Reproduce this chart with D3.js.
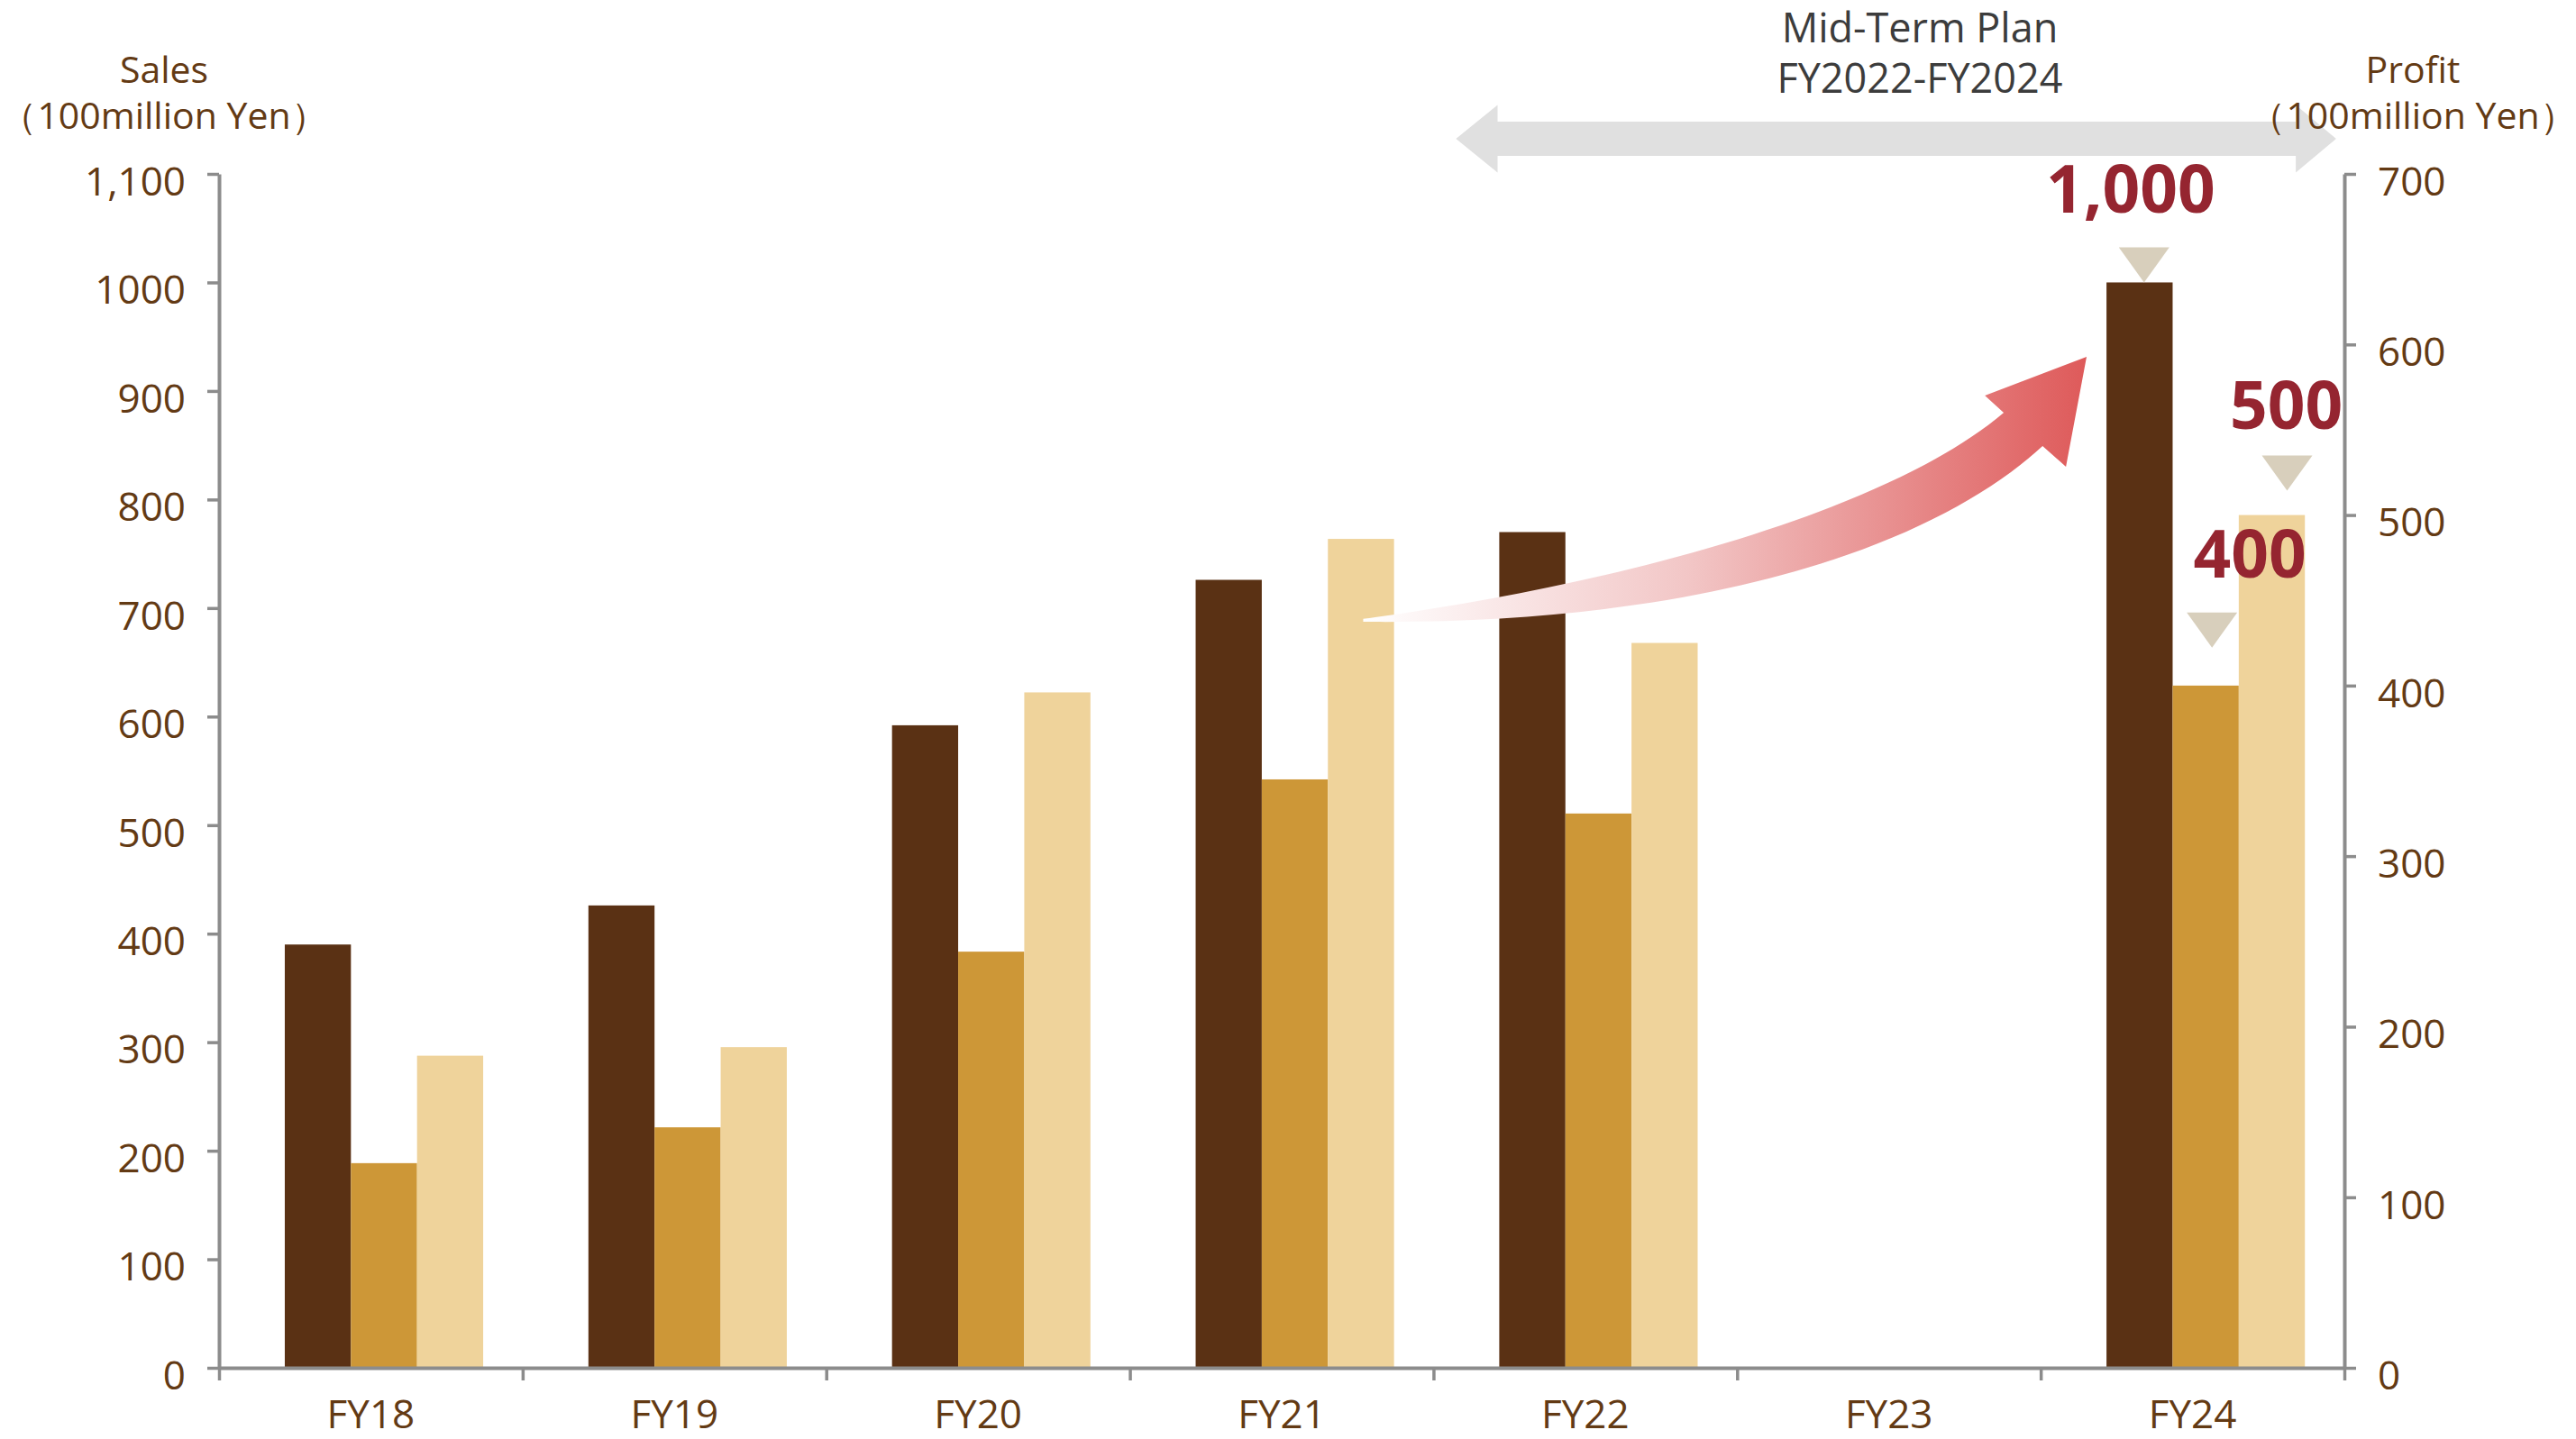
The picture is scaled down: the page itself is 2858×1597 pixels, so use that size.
<!DOCTYPE html>
<html><head><meta charset="utf-8">
<script src="https://cdn.jsdelivr.net/npm/d3@7"></script>
<style>html,body{margin:0;padding:0;background:#fff;} svg{display:block;}</style>
</head><body>
<svg id="chart" width="2858" height="1597"></svg>
<script>
// ---------------- data ----------------
const categories = ["FY18", "FY19", "FY20", "FY21", "FY22", "FY23", "FY24"];
const sales   = [390, 426, 592, 726, 770, null, 1000];   // left axis (100 million Yen)
const profitA = [120, 141, 244, 345, 325, null, 400];    // right axis
const profitB = [183, 188, 396, 486, 425, null, 500];    // right axis
const salesTicks = [0, 100, 200, 300, 400, 500, 600, 700, 800, 900, 1000, 1100];
const salesTickLabels = ["0", "100", "200", "300", "400", "500", "600", "700", "800", "900", "1000", "1,100"];
const profitTicks = [0, 100, 200, 300, 400, 500, 600, 700];
const profitTickLabels = ["0", "100", "200", "300", "400", "500", "600", "700"];
const targetLabels = ["1,000", "400", "500"];
const leftTitle = ["Sales", "（100million Yen）"];
const rightTitle = ["Profit", "（100million Yen）"];
const planTitle = ["Mid-Term Plan", "FY2022-FY2024"];

// ---------------- layout ----------------
const W = 2858, H = 1597;
const L = 243, R = 2601, T = 193, B = 1518;
const svg = d3.select("#chart");
const FONT = "'Open Sans', 'Noto Sans', sans-serif";
const TXT = "#633A14";
const AX = "#8C8C8C";

const x0 = d3.scaleBand().domain(categories).range([L, R]).paddingInner(0).paddingOuter(0);
const xPos = d3.scaleLinear().domain([0, categories.length]).range([L, R]);
const bw = x0.bandwidth();
const seriesKeys = ["sales", "profitA", "profitB"];
const x1 = d3.scaleBand().domain(seriesKeys).range([bw * 0.2166, bw * 0.87]).padding(0);
const yS = d3.scaleLinear().domain([0, 1100]).range([B, T]);
const yP = d3.scaleLinear().domain([0, 700]).range([B, T]);

const colors = { sales: "#5A3114", profitA: "#CD9737", profitB: "#EFD39B" };
const series = [
  { key: "sales", values: sales, y: yS },
  { key: "profitA", values: profitA, y: yP },
  { key: "profitB", values: profitB, y: yP }
];

// ---------------- bars ----------------
const gBars = svg.append("g");
series.forEach(s => {
  gBars.selectAll("rect." + s.key)
    .data(categories.map((c, i) => ({ c, v: s.values[i] })).filter(d => d.v != null))
    .join("rect")
    .attr("class", s.key)
    .attr("x", d => x0(d.c) + x1(s.key))
    .attr("width", x1.bandwidth())
    .attr("y", d => s.y(d.v))
    .attr("height", d => B - s.y(d.v))
    .attr("fill", colors[s.key]);
});

// ---------------- axes ----------------
function styleAxis(g) {
  g.select(".domain").attr("stroke", AX).attr("stroke-width", 4);
  g.selectAll(".tick line").attr("stroke", AX).attr("stroke-width", 3.5);
  g.selectAll(".tick text").attr("fill", TXT).style("font-family", FONT).style("font-size", "44px");
}
const gL = svg.append("g").attr("transform", `translate(${L},0)`)
  .call(d3.axisLeft(yS).tickValues(salesTicks).tickFormat((d, i) => salesTickLabels[i]).tickSize(13).tickSizeOuter(0).tickPadding(24));
styleAxis(gL);
gL.selectAll(".tick text").attr("dy", "0.53em");

const gR = svg.append("g").attr("transform", `translate(${R},0)`)
  .call(d3.axisRight(yP).tickValues(profitTicks).tickFormat((d, i) => profitTickLabels[i]).tickSize(13).tickSizeOuter(0).tickPadding(24));
styleAxis(gR);
gR.selectAll(".tick text").attr("dy", "0.53em");

const gX = svg.append("g").attr("transform", `translate(0,${B})`)
  .call(d3.axisBottom(xPos).tickValues(d3.range(categories.length + 1)).tickFormat("").tickSize(14).tickSizeOuter(0));
styleAxis(gX);
svg.append("g").selectAll("text").data(categories).join("text")
  .attr("x", d => x0(d) + bw / 2).attr("y", 1585)
  .attr("text-anchor", "middle").attr("fill", TXT)
  .style("font-family", FONT).style("font-size", "44px")
  .text(d => d);

// ---------------- axis titles ----------------
function title(lines, cx) {
  const g = svg.append("g");
  g.append("text").attr("x", cx).attr("y", 92).attr("text-anchor", "middle").attr("fill", TXT)
    .style("font-family", FONT).style("font-size", "41px").text(lines[0]);
  g.append("text").attr("x", cx).attr("y", 143).attr("text-anchor", "middle").attr("fill", TXT)
    .style("font-family", FONT).style("font-size", "41px").text(lines[1]);
}
title(leftTitle, 182);
title(rightTitle, 2677);

// ---------------- mid-term plan double arrow ----------------
const yArrow = yS(1132.4);
const xl = xPos(4.074), xlb = xPos(4.211), xrb = xPos(6.840), xr = xPos(6.973);
const sh = 19, hh = 37.5;
svg.insert("path", "g")
  .attr("d", `M${xl},${yArrow} L${xlb},${yArrow - hh} L${xlb},${yArrow - sh} L${xrb},${yArrow - sh} L${xrb},${yArrow - hh} L${xr},${yArrow} L${xrb},${yArrow + hh} L${xrb},${yArrow + sh} L${xlb},${yArrow + sh} L${xlb},${yArrow + hh} Z`)
  .attr("fill", "#E0E0E0");
svg.append("text").attr("x", 2130).attr("y", 47).attr("text-anchor", "middle").attr("fill", "#3C3C3C")
  .style("font-family", FONT).style("font-size", "45px").text(planTitle[0]);
svg.append("text").attr("x", 2130).attr("y", 103).attr("text-anchor", "middle").attr("fill", "#3C3C3C")
  .style("font-family", FONT).style("font-size", "45px").text(planTitle[1]);

// ---------------- curved growth arrow ----------------
const defs = svg.append("defs");
const grad = defs.append("linearGradient").attr("id", "redGrad")
  .attr("gradientUnits", "userSpaceOnUse")
  .attr("x1", xPos(3.77)).attr("y1", 0).attr("x2", xPos(6.15)).attr("y2", 0);
grad.append("stop").attr("offset", 0).attr("stop-color", "#FFFFFF");
grad.append("stop").attr("offset", 0.45).attr("stop-color", "#F2C6C6");
grad.append("stop").attr("offset", 1).attr("stop-color", "#DE5A5A");
const P = (u, v) => `${xPos(u)},${yS(v)}`;
const arrowPath =
  `M${P(3.7685, 690.0)}` +
  ` C${P(4.62, 722)} ${P(5.50, 790)} ${P(5.878, 880.0)}` +
  ` L${P(5.816, 895.8)} L${P(6.151, 931.5)} L${P(6.083, 830.2)} L${P(6.006, 849.3)}` +
  ` C${P(5.66, 760)} ${P(4.92, 684)} ${P(3.7685, 687.4)} Z`;
svg.append("path").attr("d", arrowPath).attr("fill", "url(#redGrad)");

// ---------------- target annotations ----------------
const RED = "#952530", TRI = "#D8CFBC";
const ann = [
  { label: targetLabels[0], cx: x0("FY24") + x1("sales") + x1.bandwidth() / 2, top: yS(sales[6]), triDx: 5, triGap: 0, lblDx: -10, lblUp: 77 },
  { label: targetLabels[1], cx: x0("FY24") + x1("profitA") + x1.bandwidth() / 2, top: yP(profitA[6]), triDx: 7, triGap: 42, lblDx: 49, lblUp: 120 },
  { label: targetLabels[2], cx: x0("FY24") + x1("profitB") + x1.bandwidth() / 2, top: yP(profitB[6]), triDx: 17, triGap: 27, lblDx: 16, lblUp: 96 }
];
ann.forEach(a => {
  const tx = a.cx + a.triDx, ty = a.top - a.triGap;
  svg.append("path").attr("d", `M${tx - 28},${ty - 39} L${tx + 28},${ty - 39} L${tx},${ty} Z`).attr("fill", TRI);
  svg.append("text").attr("x", a.cx + a.lblDx).attr("y", a.top - a.lblUp)
    .attr("text-anchor", "middle").attr("fill", RED)
    .style("font-family", FONT).style("font-weight", 700).style("font-size", "73px")
    .text(a.label);
});
</script>
</body></html>
